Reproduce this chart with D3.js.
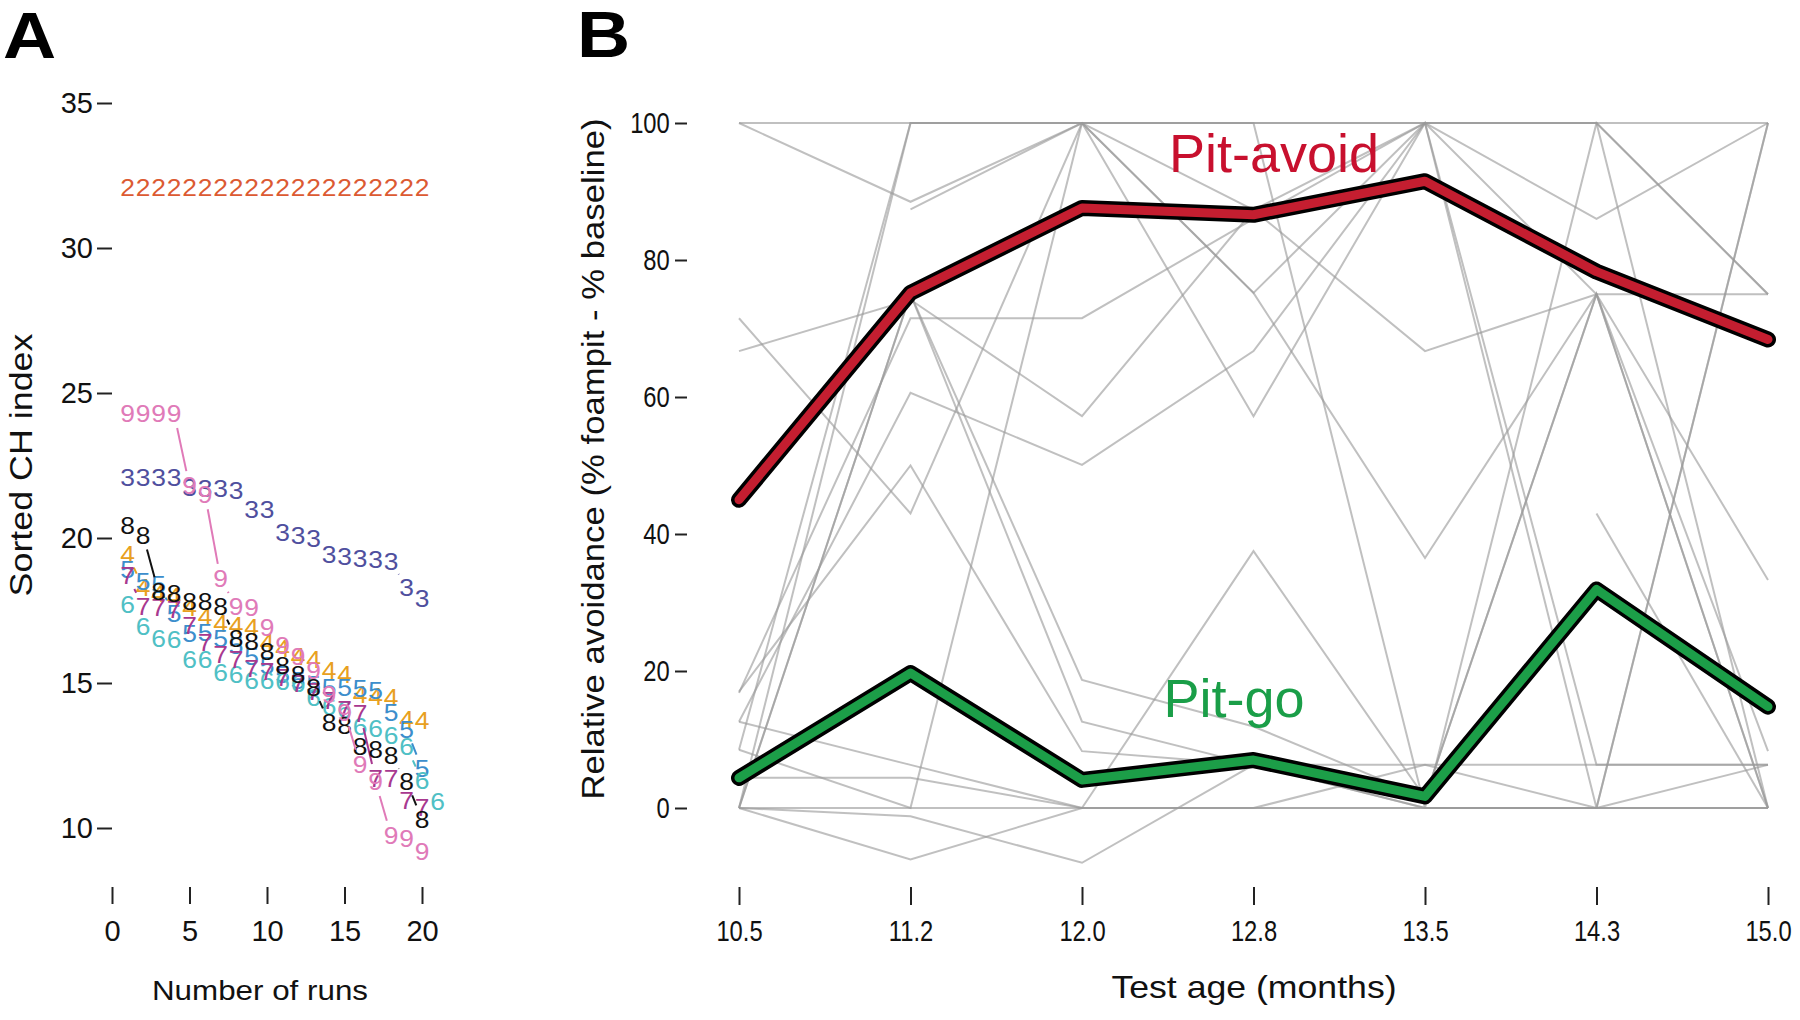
<!DOCTYPE html>
<html><head><meta charset="utf-8">
<script src="https://cdn.jsdelivr.net/npm/d3@7"></script>
<style>
body{margin:0;background:#fff;}
svg{display:block;}
text{font-family:"Liberation Sans", Arial, Helvetica, sans-serif;}
</style>
</head><body>
<svg id="chart" width="1800" height="1020"></svg>
<script>
// ---------------- Panel A data ----------------
const runs = d3.range(1, 22);
const seriesLabels = ["2","3","4","5","6","7","8","9"];
const seriesColors = ["#DC5A32","#4F4F9E","#E8A020","#3C8ECC","#4FC0C5","#A8388F","#111111","#E07AB8"];
const ch2 = [32.1,32.1,32.1,32.1,32.1,32.1,32.1,32.1,32.1,32.1,32.1,32.1,32.1,32.1,32.1,32.1,32.1,32.1,32.1,32.1];
const ch3 = [22.1,22.1,22.1,22.1,21.75,21.7,21.7,21.65,21.0,21.0,20.2,20.1,20.0,19.45,19.35,19.3,19.25,19.2,18.3,17.9];
const ch4 = [19.45,18.3,18.1,18.0,17.6,17.3,17.05,17.0,16.9,16.4,16.2,15.9,15.8,15.45,15.3,14.6,14.55,14.5,13.75,13.7];
const ch5 = [18.9,18.5,18.4,17.4,16.7,16.75,16.55,16.3,15.9,15.6,15.3,15.1,14.95,14.85,14.85,14.8,14.75,14.0,13.4,12.05];
const ch6 = [17.7,16.95,16.55,16.5,15.8,15.8,15.35,15.3,15.1,15.1,15.05,15.0,14.5,14.2,14.1,13.5,13.45,13.2,12.8,11.65,10.9];
const ch7 = [18.7,17.65,17.6,17.55,17.0,16.4,16.0,15.8,15.5,15.4,15.2,15.0,14.7,14.4,14.1,13.95,11.7,11.7,10.95,10.7];
const ch8 = [20.45,20.1,18.15,18.1,17.8,17.8,17.65,16.55,16.45,16.1,15.6,15.3,14.85,13.65,13.55,12.8,12.7,12.5,11.6,10.3];
const ch9 = [24.3,24.3,24.3,24.3,21.8,21.5,18.6,17.65,17.6,16.9,16.3,15.9,15.45,14.6,14.0,12.2,11.6,9.75,9.65,9.2];
const seriesValues = [ch2,ch3,ch4,ch5,ch6,ch7,ch8,ch9];
const yTicksA = [10,15,20,25,30,35];
const xTicksA = [0,5,10,15,20];

// ---------------- Panel B data ----------------
const ages = ["10.5","11.2","12.0","12.8","13.5","14.3","15.0"];
const pitAvoid = [45,75.2,87.6,86.6,91.5,78.3,68.4];
const pitGo = [4.4,19.7,4.1,7.0,1.7,31.9,14.8];
const yTicksB = [0,20,40,60,80,100];
const bird01 = [100,100,100,100,100,100,100];
const bird02 = [100,88.5,100,87.3,100,86,100];
const bird03 = [null,87.4,100,75.2,36.5,75,75];
const bird04 = [71.5,43,100,100,100,75,33.3];
const bird05 = [66.7,74.2,57.2,87.3,66.7,75,0];
const bird06 = [16.8,71.5,71.5,86,100,0,100];
const bird07 = [12.6,60.6,50.1,66.7,100,6.3,6.3];
const bird08 = [8.5,100,100,57.2,100,100,75];
const bird09 = [0,100,100,75.2,100,100,0];
const bird10 = [4.4,4.4,0,37.5,1.5,75,8.3];
const bird11 = [0,75,18.7,11.9,1.5,75,0];
const bird12 = [0,75,12.6,6.3,6.3,6.3,6.3];
const bird13 = [12.6,6.3,0,0,6.3,0,6.3];
const bird14 = [0,-1.2,-8,6.3,0,0,0];
const bird15 = [0,-7.5,0,0,0,0,100];
const bird16 = [17,50,8.3,6.3,0,0,0];
const bird17 = [null,null,null,null,null,43,0];
const bird18 = [0,0,0,0,0,0,0];
const bird19 = [8.5,0,100,100,0,100,75];
const birds = [bird01,bird02,bird03,bird04,bird05,bird06,bird07,bird08,bird09,bird10,
               bird11,bird12,bird13,bird14,bird15,bird16,bird17,bird18,bird19];

// ---------------- drawing ----------------
const svg = d3.select("#chart");
const FONT = '"Liberation Sans", Arial, Helvetica, sans-serif';

function label(x, y, s, o) {
  o = o || {};
  return svg.append("text")
    .attr("transform", `translate(${x},${y})` + (o.rotate ? ` rotate(${o.rotate})` : "") + ` scale(${o.sx || 1},1)`)
    .attr("text-anchor", o.anchor || "middle")
    .attr("dominant-baseline", o.baseline || "auto")
    .attr("font-size", o.size || 28)
    .attr("font-weight", o.weight || "normal")
    .attr("fill", o.fill || "#111")
    .text(s);
}

function styleAxis(g, size, sx) {
  g.select(".domain").remove();
  g.selectAll(".tick line").attr("stroke", "#222").attr("stroke-width", 2);
  g.selectAll(".tick text").attr("font-size", size).attr("fill", "#111").attr("font-family", FONT)
    .attr("transform", `scale(${sx || 1},1)`);
}

// Panel A
const xA = d3.scaleLinear().domain([0, 20]).range([112, 422]);
const yA = d3.scaleLinear().domain([10, 35]).range([828, 103]);

const gyA = svg.append("g").attr("transform", "translate(112,0)")
  .call(d3.axisLeft(yA).tickValues(yTicksA).tickSize(15).tickPadding(4));
styleAxis(gyA, 29);
const gxA = svg.append("g").attr("transform", "translate(0,887)")
  .call(d3.axisBottom(xA).tickValues(xTicksA).tickSize(17).tickPadding(16));
styleAxis(gxA, 29);

label(3, 58, "A", {anchor: "start", size: 64, weight: "bold", sx: 1.15, fill: "#000"});
label(260, 1000, "Number of runs", {size: 28, sx: 1.12});
label(32, 465, "Sorted CH index", {size: 32, sx: 1.12, rotate: -90});

const GAP = 15;
seriesValues.forEach((vals, si) => {
  const color = seriesColors[si];
  const pts = vals.map((v, i) => [xA(runs[i]), yA(v)]);
  const g = svg.append("g");
  for (let i = 0; i < pts.length - 1; i++) {
    const [x1, y1] = pts[i], [x2, y2] = pts[i + 1];
    const len = Math.hypot(x2 - x1, y2 - y1);
    if (len <= 2 * GAP) continue;
    const ux = (x2 - x1) / len, uy = (y2 - y1) / len;
    g.append("line")
      .attr("x1", x1 + ux * GAP).attr("y1", y1 + uy * GAP)
      .attr("x2", x2 - ux * GAP).attr("y2", y2 - uy * GAP)
      .attr("stroke", color).attr("stroke-width", 2);
  }
  g.selectAll("text").data(pts).join("text")
    .attr("transform", d => `translate(${d[0]},${d[1]}) scale(1.1,1)`)
    .attr("text-anchor", "middle")
    .attr("dominant-baseline", "central")
    .attr("font-size", 24)
    .attr("fill", color)
    .text(seriesLabels[si]);
});

// Panel B
const xB = d3.scalePoint().domain(ages).range([739, 1768]);
const yB = d3.scaleLinear().domain([0, 100]).range([808, 123]);

const gyB = svg.append("g").attr("transform", "translate(687,0)")
  .call(d3.axisLeft(yB).tickValues(yTicksB).tickSize(12).tickPadding(9));
styleAxis(gyB, 29, 0.82);
const gxB = svg.append("g").attr("transform", "translate(0,887)")
  .call(d3.axisBottom(xB).tickSize(18).tickPadding(15));
styleAxis(gxB, 29, 0.82);

label(577, 57, "B", {anchor: "start", size: 64, weight: "bold", sx: 1.15, fill: "#000"});
label(1254, 998, "Test age (months)", {size: 31, sx: 1.15});
label(604, 459, "Relative avoidance (% foampit - % baseline)", {size: 31, sx: 1.12, rotate: -90});

const lineB = d3.line()
  .defined(d => d != null)
  .x((d, i) => xB(ages[i]))
  .y(d => yB(d));

const gGray = svg.append("g");
birds.forEach(b => {
  gGray.append("path").attr("d", lineB(b))
    .attr("fill", "none").attr("stroke", "#9a9a9a").attr("stroke-opacity", 0.62)
    .attr("stroke-width", 2);
});

function thick(vals, color) {
  svg.append("path").attr("d", lineB(vals)).attr("fill", "none")
    .attr("stroke", "#000").attr("stroke-width", 16)
    .attr("stroke-linejoin", "round").attr("stroke-linecap", "round");
  svg.append("path").attr("d", lineB(vals)).attr("fill", "none")
    .attr("stroke", color).attr("stroke-width", 9)
    .attr("stroke-linejoin", "round").attr("stroke-linecap", "round");
}
thick(pitAvoid, "#C41E30");
thick(pitGo, "#1C9E48");

label(1274, 172, "Pit-avoid", {size: 54, fill: "#C8102E"});
label(1234, 717, "Pit-go", {size: 54, fill: "#1A9E48"});
</script>
</body></html>
